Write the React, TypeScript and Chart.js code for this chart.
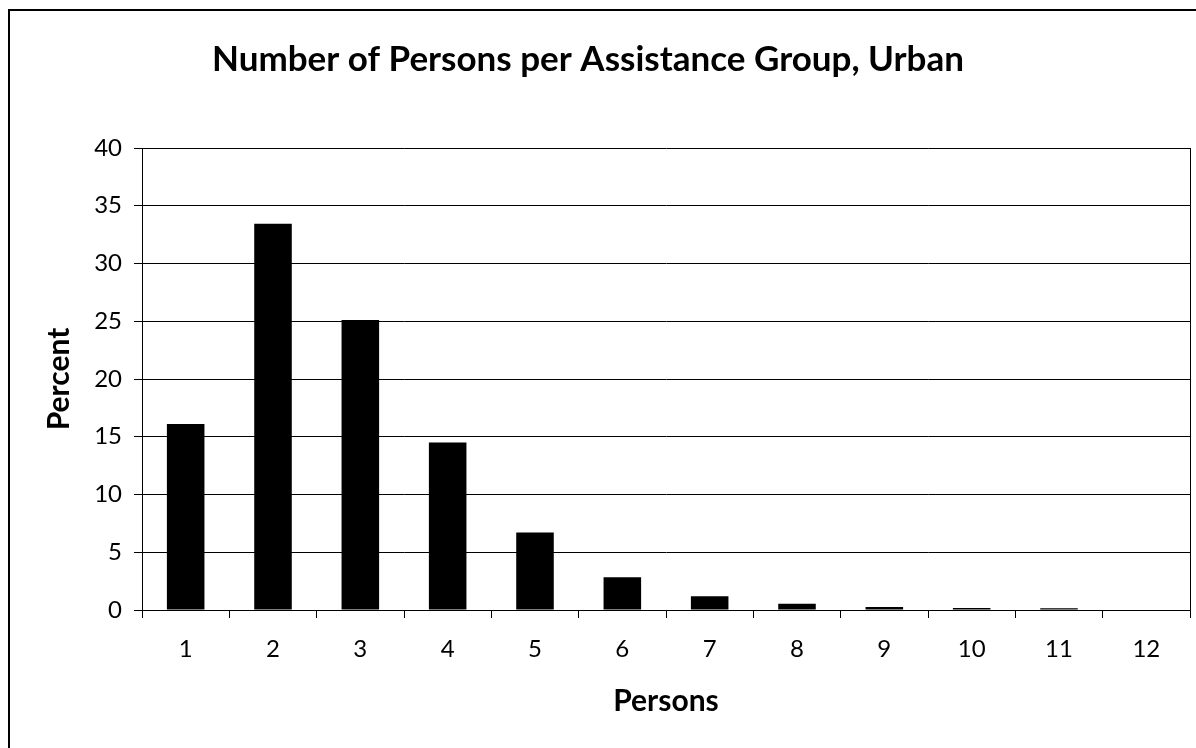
import { useEffect, useRef } from "react";
import { Chart, registerables } from "chart.js";

Chart.register(...registerables);

const categories = ["1", "2", "3", "4", "5", "6", "7", "8", "9", "10", "11", "12"];
const percentValues = [16.1, 33.45, 25.1, 14.5, 6.72, 2.83, 1.2, 0.55, 0.27, 0.18, 0.16, 0];
const yMin = 0;
const yMax = 40;
const yStep = 5;
const titleText = "Number of Persons per Assistance Group, Urban";
const xTitle = "Persons";
const yTitle = "Percent";

const FONT = "Lato, 'Open Sans', sans-serif";

const extrasPlugin = {
  id: "extras",
  afterDraw(chart: any) {
    const { ctx, chartArea } = chart;
    ctx.save();
    // right border of plot area
    ctx.strokeStyle = "#000";
    ctx.lineWidth = 1;
    ctx.beginPath();
    ctx.moveTo(Math.round(chartArea.right) + 0.5, chartArea.top);
    ctx.lineTo(Math.round(chartArea.right) + 0.5, chartArea.bottom + 8);
    ctx.stroke();
    // chart title
    ctx.fillStyle = "#000";
    ctx.font = `bold 35px ${FONT}`;
    ctx.textAlign = "center";
    ctx.textBaseline = "alphabetic";
    ctx.fillText(titleText, 588, 71);
    ctx.restore();
  },
};

export default function App() {
  const ref = useRef<HTMLCanvasElement | null>(null);

  useEffect(() => {
    if (!ref.current) return;
    const chart = new Chart(ref.current, {
      type: "bar",
      data: {
        labels: categories,
        datasets: [
          {
            data: percentValues,
            backgroundColor: "#000",
            borderWidth: 0,
            categoryPercentage: 1,
            barPercentage: 0.43,
          },
        ],
      },
      options: {
        animation: false,
        responsive: false,
        maintainAspectRatio: false,
        layout: { padding: { top: 148, left: 0, right: 6, bottom: 0 } },
        plugins: {
          legend: { display: false },
          tooltip: { enabled: false },
          title: { display: false },
        },
        scales: {
          x: {
            afterFit: (s: any) => {
              s.height = 138;
            },
            grid: {
              display: true,
              drawOnChartArea: false,
              drawTicks: true,
              tickLength: 8,
              color: "#000",
              offset: true,
            },
            border: { display: true, color: "#000", width: 1 },
            ticks: {
              color: "#000",
              font: { family: FONT, size: 24 },
              padding: 17,
              maxRotation: 0,
            },
            title: {
              display: true,
              text: xTitle,
              color: "#000",
              font: { family: FONT, size: 30, weight: "bold" },
              padding: { top: 0, bottom: 29 },
            },
          },
          y: {
            min: yMin,
            max: yMax,
            afterFit: (s: any) => {
              s.width = 142;
            },
            grid: {
              color: "#000",
              tickLength: 8,
              lineWidth: 1,
            },
            border: { display: true, color: "#000", width: 1 },
            ticks: {
              stepSize: yStep,
              color: "#000",
              font: { family: FONT, size: 24 },
              padding: 12,
            },
            title: {
              display: true,
              text: yTitle,
              color: "#000",
              font: { family: FONT, size: 30, weight: "bold" },
              padding: { top: 41, bottom: 0 },
            },
          },
        },
      },
      plugins: [extrasPlugin],
    });
    return () => chart.destroy();
  }, []);

  return (
    <div>
      <canvas
        ref={ref}
        width={1196}
        height={748}
        style={{ position: "fixed", left: 0, top: 0, width: 1196, height: 748 }}
      />
      <div
        style={{
          position: "fixed",
          left: 8,
          top: 9,
          width: 1400,
          height: 1000,
          borderLeft: "2px solid #000",
          borderTop: "2px solid #000",
          pointerEvents: "none",
        }}
      />
    </div>
  );
}
